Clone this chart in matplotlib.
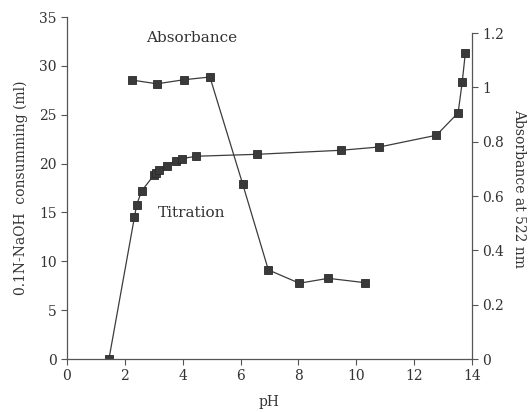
import matplotlib
matplotlib.use("Agg")
import matplotlib.pyplot as plt

# Titration curve (left axis, ml of 0.1N NaOH)
titr_ph = [1.45, 2.33, 2.41, 2.58, 3.0, 3.08, 3.17, 3.45, 3.76, 3.97, 4.45,
           6.57, 9.46, 10.8, 12.77, 13.52, 13.66, 13.77]
titr_ml = [0.0, 14.5, 15.8, 17.2, 18.8, 19.07, 19.3, 19.8, 20.3, 20.5, 20.75,
           20.95, 21.36, 21.7, 22.9, 25.2, 28.3, 31.35]

# Absorbance at 522 nm (right axis)
abs_ph = [2.24, 3.11, 4.04, 4.94, 6.07, 6.96, 8.03, 9.03, 10.3]
abs_val = [1.027, 1.013, 1.028, 1.038, 0.645, 0.328, 0.279, 0.297, 0.281]

x_ticks = [0, 2, 4, 6, 8, 10, 12, 14]
left_ticks = [0, 5, 10, 15, 20, 25, 30, 35]
right_ticks = [0, 0.2, 0.4, 0.6, 0.8, 1.0, 1.2]
right_labels = ["0", "0.2", "0.4", "0.6", "0.8", "1", "1.2"]

plt.rcParams['font.family'] = ['DejaVu Serif']
ink = "#3c3c3c"
txt = "#333333"

fig = plt.figure(figsize=(5.3, 4.12), dpi=100)
ax = fig.add_axes([0.1264, 0.1286, 0.7642, 0.8301])
ax2 = ax.twinx()

ax.plot(titr_ph, titr_ml, color=ink, lw=0.9, marker='s', ms=5.5,
        mfc="#3a3a3a", mec="#2a2a2a", mew=0.6)
ax2.plot(abs_ph, abs_val, color=ink, lw=0.9, marker='s', ms=5.5,
         mfc="#3a3a3a", mec="#2a2a2a", mew=0.6)

ax.set_xlim(0, 14)
ax.set_ylim(0, 35)
ax2.set_ylim(0, 1.2 * 342 / 326)

for a in (ax, ax2):
    a.spines['top'].set_visible(False)
    for s in a.spines.values():
        s.set_color("#555555")
        s.set_linewidth(0.9)
ax.spines['right'].set_visible(False)
ax2.spines['left'].set_visible(False)
ax2.spines['bottom'].set_visible(False)
ax2.spines['right'].set_bounds(0, 1.2)

ax.set_xticks(x_ticks)
ax.set_yticks(left_ticks)
ax2.set_yticks(right_ticks)
ax2.set_yticklabels(right_labels)

ax.tick_params(axis='both', direction='out', length=4, width=0.8,
               colors="#555555", labelcolor=txt, labelsize=10)
ax2.tick_params(axis='y', direction='out', length=4, width=0.8,
                colors="#555555", labelcolor=txt, labelsize=10)

ax.set_xlabel("pH", fontsize=10, color=txt, labelpad=8)
ax.set_ylabel("0.1N-NaOH  consumming (ml)", fontsize=10, color=txt, labelpad=8)
ax2.set_ylabel("Absorbance at 522 nm", fontsize=10, color=txt,
               rotation=270, labelpad=16)

ax.text(4.3, 32.9, "Absorbance", fontsize=11, color=txt, ha='center', va='center')
ax.text(4.3, 14.9, "Titration", fontsize=11, color=txt, ha='center', va='center')

fig.savefig("out.png", dpi=100)
